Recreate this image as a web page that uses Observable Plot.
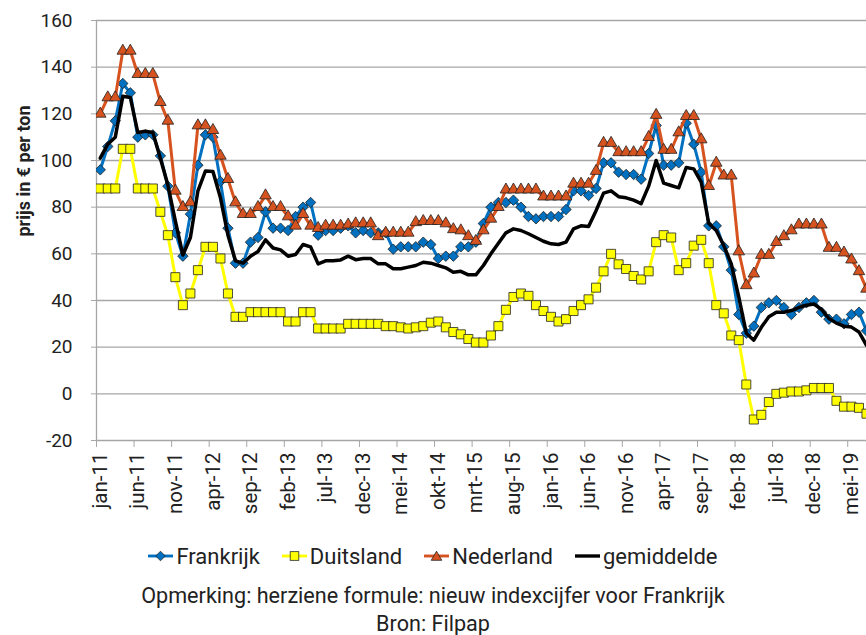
<!DOCTYPE html>
<html>
<head>
<meta charset="utf-8">
<script src="https://cdn.jsdelivr.net/npm/d3@7"></script>
<script src="https://cdn.jsdelivr.net/npm/@observablehq/plot@0.6"></script>
<style>
  html, body { margin: 0; padding: 0; background: #fff; }
  body { width: 866px; height: 635px; overflow: hidden; font-family: Roboto, sans-serif; color: #222; }
  #legend { display: flex; justify-content: center; align-items: center; height: 30px; margin-top: 21px; font-size: 22px; }
  .item { display: flex; align-items: center; margin: 0 11px; }
  .item svg { margin-right: 3px; }
  #note { text-align: center; font-size: 21.6px; line-height: 28px; margin-top: 11px; }
</style>
</head>
<body>
<div id="chart"></div>
<div id="legend"></div>
<div id="note">Opmerking: herziene formule: nieuw indexcijfer voor Frankrijk<br>Bron: Filpap</div>
<script>
// Maandelijkse prijzen (€ per ton), jan-11 t/m jul-19
const frankrijk = [96,106,117,133,129,110,111,111,102,89,
  69,59,77,98,111,110,91,71,56,56,
  65,67,78,71,71,70,76,80,82,68,
  70,70,71,72,69,70,69,69,69,62,
  63,63,63,65,64,58,59,59,63,63,
  65,73,80,82,82,83,80,76,75,76,
  76,76,79,87,87,85,88,99,99,95,
  94,94,92,103,115,98,98,99,116,107,
  95,72,72,63,53,34,26,29,37,39,
  40,37,34,37,39,40,35,32,32,30,
  34,35,27];
const duitsland = [88,88,88,105,105,88,88,88,78,68,
  50,38,43,53,63,63,58,43,33,33,
  35,35,35,35,35,31,31,35,35,28,
  28,28,28,30,30,30,30,30,29,29,
  28.5,28,28.5,29,30.5,31,28.5,26.5,25.5,23.5,
  22,22,25,29,36,41.5,43,42,38,35.5,
  33,31,32,35.5,38,40.5,45.5,52.5,60,55.5,
  53.5,50.5,49,52.5,65,68,67,53,56,63.5,
  66,56,38,34.5,25,23,4,-11,-9,-3.5,
  0,0.5,1,1,1.5,2.5,2.5,2.5,-3,-5.5,
  -5.5,-6,-8.5];
const nederland = [120,127,127,147,147,137,137,137,125,117,
  87,80,82,115,115,113,102,92,82,77,
  77,80,85,80,80,76,72,77,72,71,
  72,72,72,72.5,73,73,73,67.5,69,69,
  69,69,73.5,74,74,74,73,70.5,70,67.5,
  65.5,70,75,80,87.5,87.5,87.5,87.5,87.5,84.5,
  84.5,84.5,84.5,90,90,90,95.5,107.5,107.5,103.5,
  103.5,103.5,103.5,110,119.5,104.5,104.5,112,119,119,
  109,89,99,93.5,93.5,61,46.5,51.5,59.5,59.5,
  65,67.5,70,72.5,72.5,72.5,72.5,62.5,62.5,60.5,
  57.5,52.5,45];
const gemiddelde = [101,107,110,127.5,127,112,112.5,112,101,89.5,
  74,59.5,67,87,95.5,95.3,84,68,57,56,
  59,61,66,62.5,61.7,59,59.7,64,63,55.7,
  57,57,57.4,59,57.5,58,58,55.7,55.7,53.6,
  53.6,54.3,55,56.4,56,55,54,52.1,52.5,51,
  51,55,60,64.5,69,70.7,70,68.6,67,65.4,
  64.3,64,65,70.7,72,71.7,78.5,86,87,84.5,
  84,83,81.5,89,100,90.3,89.3,88.3,97,96.4,
  90.7,73,70,63.6,55.7,41.4,26,23,28.5,33,
  35,35,35.7,37,38,38.5,36.2,32.3,30.3,29,
  28.6,26.5,20.8];
const tickLabels = ["jan-11","jun-11","nov-11","apr-12","sep-12","feb-13","jul-13","dec-13",
  "mei-14","okt-14","mrt-15","aug-15","jan-16","jun-16","nov-16","apr-17","sep-17",
  "feb-18","jul-18","dec-18","mei-19"];
const yTicks = [-20,0,20,40,60,80,100,120,140,160];

const series = [
  {name: "Frankrijk", values: frankrijk, color: "#0070C0", symbol: "diamond2", r: 4.7, width: 3},
  {name: "Duitsland", values: duitsland, color: "#FFFF00", symbol: "square", r: 5.1, width: 3},
  {name: "Nederland", values: nederland, color: "#D6521F", symbol: "triangle", r: 4.3, width: 3},
  {name: "gemiddelde", values: gemiddelde, color: "#000000", symbol: null, r: 0, width: 3.5}
];

const marks = [
  Plot.gridY({ticks: yTicks, stroke: "#a6a6a6", strokeOpacity: 1, strokeWidth: 1.3}),
  Plot.ruleX([-0.5], {y1: -20, y2: 160, stroke: "#a6a6a6", strokeWidth: 1.3}),
  Plot.axisY({ticks: yTicks, tickFormat: d => String(d), tickSize: 5, tickPadding: 19,
    stroke: "#a6a6a6", label: null}),
  Plot.axisX({ticks: d3.range(-0.5, 102, 5), tickFormat: () => "", tickSize: 7,
    stroke: "#a6a6a6", label: null}),
  Plot.axisX({ticks: d3.range(0, 101, 5), tickFormat: i => tickLabels[Math.round(i / 5)],
    tickRotate: -90, tickSize: 0, tickPadding: 12, fontSize: 20.5, label: null}),
  Plot.text(["prijs in € per ton"], {text: d => d, frameAnchor: "left", dx: -72, dy: 6,
    rotate: -90, fontWeight: "bold", fontSize: 18, fill: "#222"})
];
for (const s of series) {
  const rows = s.values.map((v, i) => ({i, v}));
  marks.push(Plot.line(rows, {x: "i", y: "v", stroke: s.color, strokeWidth: s.width,
    strokeLinejoin: "round", clip: true}));
  if (s.symbol) {
    marks.push(Plot.dot(rows, {x: "i", y: "v", symbol: s.symbol, r: s.r, fill: s.color,
      stroke: "#222", strokeWidth: 0.8, clip: true}));
  }
}

const chart = Plot.plot({
  width: 866, height: 520,
  marginLeft: 96, marginRight: 0, marginTop: 20, marginBottom: 80,
  style: {fontFamily: "Roboto, sans-serif", fontSize: "19px", color: "#222", background: "#fff", overflow: "hidden"},
  x: {type: "linear", domain: [-0.5, 102], label: null},
  y: {domain: [-20, 160], label: null},
  marks
});
document.getElementById("chart").append(chart);

// Legend
const legend = document.getElementById("legend");
const shapes = {
  diamond2: '<polygon points="13,3 18,8 13,13 8,8"/>',
  square: '<rect x="8.5" y="3.5" width="9" height="9"/>',
  triangle: '<polygon points="13,3 18.5,12.5 7.5,12.5"/>'
};
for (const s of series) {
  const item = document.createElement("div");
  item.className = "item";
  const marker = s.symbol ? `<g fill="${s.color}" stroke="#222" stroke-width="0.8">${shapes[s.symbol]}</g>` : "";
  item.innerHTML = `<svg width="25" height="16" viewBox="0 0 26 16"><line x1="0" y1="8" x2="26" y2="8" stroke="${s.color}" stroke-width="${s.width}"/>${marker}</svg><span>${s.name}</span>`;
  legend.append(item);
}
</script>
</body>
</html>
